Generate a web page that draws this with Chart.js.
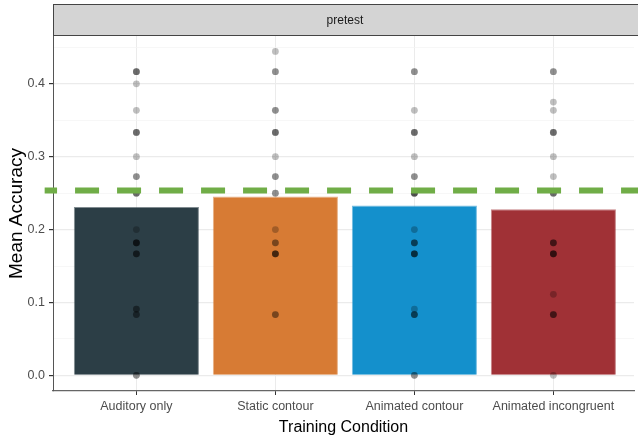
<!DOCTYPE html>
<html lang="en">
<head>
    <meta charset="UTF-8">
    <title>Mean Accuracy by Training Condition</title>
    <script src="https://cdn.jsdelivr.net/npm/chart.js"></script>
    <style>
        body {
            margin: 0;
            background: #fff;
        }
        canvas {
            display: block;
        }
    </style>
</head>
<body>
    <canvas id="accChart" width="638" height="440"></canvas>

    <script>
        const categories = ['Auditory only', 'Static contour', 'Animated contour', 'Animated incongruent'];
        const meanAccuracy = [0.231, 0.2455, 0.233, 0.228];
        const barColors = ['#2c3e46', '#d77b34', '#1490cc', '#a03136'];
        const chanceLevel = 0.2535;
        const facetLabel = 'pretest';
        const yTicks = [0, 0.05, 0.1, 0.15, 0.2, 0.25, 0.3, 0.35, 0.4, 0.45];

        // individual participant scores (repeated values = overlapping points)
        const auditoryScores = [0.4167, 0.4167, 0.4167, 0.4, 0.3636, 0.3333, 0.3333, 0.3333, 0.3, 0.2727, 0.2727,
            0.25, 0.25, 0.25, 0.2, 0.1818, 0.1818, 0.1818, 0.1818, 0.1667, 0.1667, 0.1667, 0.0909, 0.0909, 0.0833, 0.0833, 0, 0];
        const staticScores = [0.4444, 0.4167, 0.4167, 0.3636, 0.3636, 0.3333, 0.3333, 0.3333, 0.3, 0.2727, 0.2727,
            0.25, 0.25, 0.2, 0.1818, 0.1818, 0.1667, 0.1667, 0.1667, 0.1667, 0.0833, 0.0833];
        const animatedScores = [0.4167, 0.4167, 0.3636, 0.3333, 0.3333, 0.3333, 0.3, 0.2727, 0.2727, 0.25, 0.25, 0.25, 0.25,
            0.2, 0.1818, 0.1818, 0.1818, 0.1667, 0.1667, 0.1667, 0.1667, 0.0909, 0.0833, 0.0833, 0.0833, 0, 0];
        const incongruentScores = [0.4167, 0.4167, 0.375, 0.3636, 0.3333, 0.3333, 0.3333, 0.3, 0.2727, 0.25, 0.25, 0.25,
            0.1818, 0.1818, 0.1818, 0.1667, 0.1667, 0.1667, 0.1667, 0.1111, 0.0833, 0.0833, 0.0833, 0];

        const allScores = [auditoryScores, staticScores, animatedScores, incongruentScores];

        const FONT = "'Liberation Sans', Arial, sans-serif";

        const stripPlugin = {
            id: 'facetStrip',
            afterDraw(chart) {
                const c = chart.ctx;
                const area = chart.chartArea;
                const top = 4.5, bottom = area.top;
                c.save();
                c.fillStyle = '#d4d4d4';
                c.fillRect(area.left, top, chart.width - area.left + 5, bottom - top);
                c.strokeStyle = '#444';
                c.lineWidth = 1;
                c.strokeRect(area.left + 0.5, top, chart.width, bottom - top - 0.5);
                c.fillStyle = '#1a1a1a';
                c.font = '12px ' + FONT;
                c.textAlign = 'center';
                c.textBaseline = 'middle';
                c.fillText(facetLabel, chart.scales.x.getPixelForValue(1.5), (top + bottom) / 2);
                c.restore();
            }
        };

        const ctx = document.getElementById('accChart').getContext('2d');

        new Chart(ctx, {
            type: 'bar',
            data: {
                datasets: [
                    {
                        type: 'line',
                        data: [{ x: -0.66, y: chanceLevel }, { x: 3.7, y: chanceLevel }],
                        borderColor: '#70ad47',
                        borderWidth: 6,
                        borderDash: [24, 18],
                        borderDashOffset: 11.6,
                        pointRadius: 0,
                        clip: false,
                        order: 0
                    },
                    {
                        type: 'scatter',
                        data: allScores.flatMap((scores, i) => scores.map(v => ({ x: i, y: v }))),
                        pointRadius: 3.4,
                        pointBorderWidth: 0,
                        pointBackgroundColor: 'rgba(0,0,0,0.25)',
                        order: 1
                    },
                    {
                        type: 'bar',
                        data: meanAccuracy.map((v, i) => ({ x: i, y: v })),
                        backgroundColor: barColors,
                        borderColor: barColors.map(c => c + '99'),
                        borderWidth: 1,
                        barPercentage: 0.9,
                        categoryPercentage: 1,
                        order: 2
                    }
                ]
            },
            options: {
                responsive: false,
                animation: false,
                layout: { padding: { top: 36, left: 0, right: 0, bottom: 0 } },
                plugins: {
                    legend: { display: false },
                    tooltip: { enabled: false }
                },
                scales: {
                    x: {
                        type: 'linear',
                        min: -0.6,
                        max: 3.58,
                        offset: false,
                        afterBuildTicks: s => { s.ticks = categories.map((_, i) => ({ value: i })); },
                        afterFit: s => { s.height = 49; },
                        ticks: {
                            callback: v => categories[v] ?? '',
                            color: '#4d4d4d',
                            font: { family: FONT, size: 12.5 },
                            padding: 4,
                            maxRotation: 0,
                            autoSkip: false
                        },
                        grid: {
                            offset: false,
                            color: '#ebebeb',
                            lineWidth: 1,
                            tickLength: 4,
                            tickColor: '#333'
                        },
                        border: { color: '#666', width: 1.2 },
                        title: {
                            display: true,
                            text: 'Training Condition',
                            color: '#000',
                            font: { family: FONT, size: 16 },
                            padding: { top: 0, bottom: 3 }
                        }
                    },
                    y: {
                        min: -0.0215,
                        max: 0.4656,
                        afterBuildTicks: s => { s.ticks = yTicks.map(v => ({ value: v })); },
                        afterFit: s => { s.width = 53; },
                        ticks: {
                            callback: (v, i) => (i % 2 === 0 ? v.toFixed(1) : ''),
                            color: '#4d4d4d',
                            font: { family: FONT, size: 12.5 },
                            padding: 4
                        },
                        grid: {
                            color: c => (c.index % 2 === 0 ? '#ebebeb' : '#f3f3f3'),
                            lineWidth: c => (c.index % 2 === 0 ? 1.2 : 0.7),
                            tickLength: 4,
                            tickColor: c => (c.index % 2 === 0 ? '#333' : 'rgba(0,0,0,0)')
                        },
                        border: { color: '#555', width: 1 },
                        title: {
                            display: true,
                            text: 'Mean Accuracy',
                            color: '#000',
                            font: { family: FONT, size: 19 },
                            padding: { top: 5, bottom: 0 }
                        }
                    }
                }
            },
            plugins: [stripPlugin]
        });
    </script>
</body>
</html>
